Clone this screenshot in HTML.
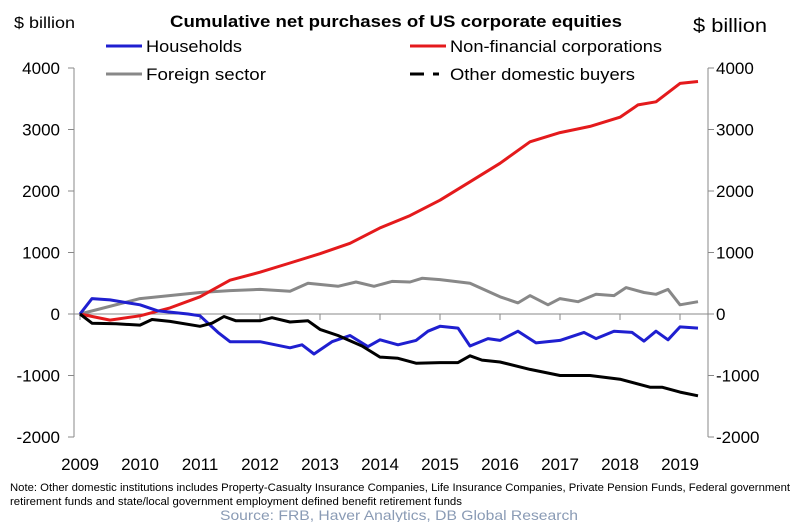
<!DOCTYPE html>
<html><head><meta charset="utf-8"><style>
body{margin:0;background:#fff;width:800px;height:522px;overflow:hidden;font-family:"Liberation Sans",Arial,sans-serif}
</style></head><body>
<svg id="c" width="800" height="522" viewBox="0 0 800 522" xmlns="http://www.w3.org/2000/svg" font-family="Liberation Sans, Arial, sans-serif">
<text x="14" y="28" font-size="16" fill="#000" textLength="61" lengthAdjust="spacingAndGlyphs">$ billion</text>
<text x="170" y="27" font-size="17" font-weight="bold" fill="#000" textLength="452" lengthAdjust="spacingAndGlyphs">Cumulative net purchases of US corporate equities</text>
<text x="693" y="32" font-size="19" fill="#000" textLength="74" lengthAdjust="spacingAndGlyphs">$ billion</text>
<line x1="106" y1="46" x2="142" y2="46" stroke="#1f1fd0" stroke-width="3"/>
<text x="146" y="52" font-size="17" textLength="96" lengthAdjust="spacingAndGlyphs">Households</text>
<line x1="410" y1="46" x2="446" y2="46" stroke="#e41a1c" stroke-width="3"/>
<text x="450" y="52" font-size="17" textLength="212" lengthAdjust="spacingAndGlyphs">Non-financial corporations</text>
<line x1="106" y1="74" x2="142" y2="74" stroke="#888" stroke-width="3"/>
<text x="146" y="80" font-size="17" textLength="120" lengthAdjust="spacingAndGlyphs">Foreign sector</text>
<line x1="410" y1="74" x2="424" y2="74" stroke="#000" stroke-width="3"/>
<line x1="433" y1="74" x2="439" y2="74" stroke="#000" stroke-width="3"/>
<text x="450" y="80" font-size="17" textLength="185" lengthAdjust="spacingAndGlyphs">Other domestic buyers</text>
<g stroke="#888" stroke-width="1" fill="none">
<line x1="74" y1="68" x2="74" y2="437"/><line x1="708" y1="68" x2="708" y2="437"/>
<line x1="74" y1="314" x2="708" y2="314"/>
</g>
<g id="ticks" stroke="#888" stroke-width="1"></g>
<g font-size="17" fill="#000" id="lab"></g>
<g id="series" fill="none" stroke-width="3" stroke-linejoin="round"></g>
<text x="10" y="491" font-size="11" fill="#000" textLength="780" lengthAdjust="spacingAndGlyphs">Note: Other domestic institutions includes Property-Casualty Insurance Companies, Life Insurance Companies, Private Pension Funds, Federal government</text>
<text x="10" y="505" font-size="11" fill="#000" textLength="452" lengthAdjust="spacingAndGlyphs">retirement funds and state/local government employment defined benefit retirement funds</text>
<text x="220" y="520" font-size="14" fill="#8a9bb5" textLength="358" lengthAdjust="spacingAndGlyphs">Source: FRB, Haver Analytics, DB Global Research</text>
</svg>
<script>
var NS="http://www.w3.org/2000/svg";
function X(t){return 80+(t-2009)*60}
function Y(v){return 314-v*0.0615}
function el(p,n,a,txt){var e=document.createElementNS(NS,n);for(var k in a)e.setAttribute(k,a[k]);if(txt!==undefined)e.textContent=txt;document.getElementById(p).appendChild(e)}
[4000,3000,2000,1000,0,-1000,-2000].forEach(function(v){var y=Y(v);
el("ticks","line",{x1:68,y1:y,x2:74,y2:y});el("ticks","line",{x1:708,y1:y,x2:714,y2:y});
el("lab","text",{x:60,y:y+6,"text-anchor":"end"},v);el("lab","text",{x:716,y:y+6},v);});
for(var yr=2009;yr<=2019;yr++){el("ticks","line",{x1:X(yr),y1:314,x2:X(yr),y2:320});el("lab","text",{x:X(yr),y:470,"text-anchor":"middle"},yr);}
var S={
"#888":[[2009,0],[2010,250],[2011,350],[2011.5,380],[2012,400],[2012.5,370],[2012.8,500],[2013.3,450],[2013.6,520],[2013.9,450],[2014.2,530],[2014.5,520],[2014.7,580],[2015,560],[2015.5,500],[2016,280],[2016.3,180],[2016.5,300],[2016.8,150],[2017,250],[2017.3,200],[2017.6,320],[2017.9,300],[2018.1,430],[2018.4,350],[2018.6,320],[2018.8,400],[2019,150],[2019.3,200]],
"#e41a1c":[[2009,0],[2009.5,-100],[2010,-30],[2010.5,100],[2011,280],[2011.5,550],[2012,680],[2012.5,830],[2013,980],[2013.5,1150],[2014,1400],[2014.5,1600],[2015,1850],[2015.5,2150],[2016,2450],[2016.5,2800],[2017,2950],[2017.5,3050],[2018,3200],[2018.3,3400],[2018.6,3450],[2019,3750],[2019.3,3780]],
"#1f1fd0":[[2009,0],[2009.2,250],[2009.5,230],[2010,150],[2010.3,50],[2010.8,0],[2011,-30],[2011.3,-300],[2011.5,-450],[2012,-450],[2012.5,-550],[2012.7,-500],[2012.9,-650],[2013.2,-450],[2013.5,-350],[2013.8,-530],[2014,-420],[2014.3,-500],[2014.6,-430],[2014.8,-280],[2015,-200],[2015.3,-230],[2015.5,-520],[2015.8,-400],[2016,-430],[2016.3,-280],[2016.6,-470],[2017,-430],[2017.4,-300],[2017.6,-400],[2017.9,-280],[2018.2,-300],[2018.4,-440],[2018.6,-280],[2018.8,-420],[2019,-210],[2019.3,-230]],
"#000":[[2009,0],[2009.2,-150],[2009.6,-160],[2010,-180],[2010.2,-90],[2010.5,-120],[2011,-200],[2011.2,-150],[2011.4,-40],[2011.6,-110],[2012,-110],[2012.2,-60],[2012.5,-130],[2012.8,-110],[2013,-250],[2013.3,-350],[2013.7,-520],[2014,-700],[2014.3,-720],[2014.6,-800],[2015,-790],[2015.3,-790],[2015.5,-680],[2015.7,-750],[2016,-780],[2016.5,-900],[2017,-1000],[2017.5,-1000],[2018,-1060],[2018.5,-1190],[2018.7,-1190],[2019,-1270],[2019.3,-1330]]};
for(var c in S){el("series","polyline",{stroke:c,points:S[c].map(function(p){return X(p[0]).toFixed(1)+","+Y(p[1]).toFixed(1)}).join(" ")});}
</script>
</body></html>
